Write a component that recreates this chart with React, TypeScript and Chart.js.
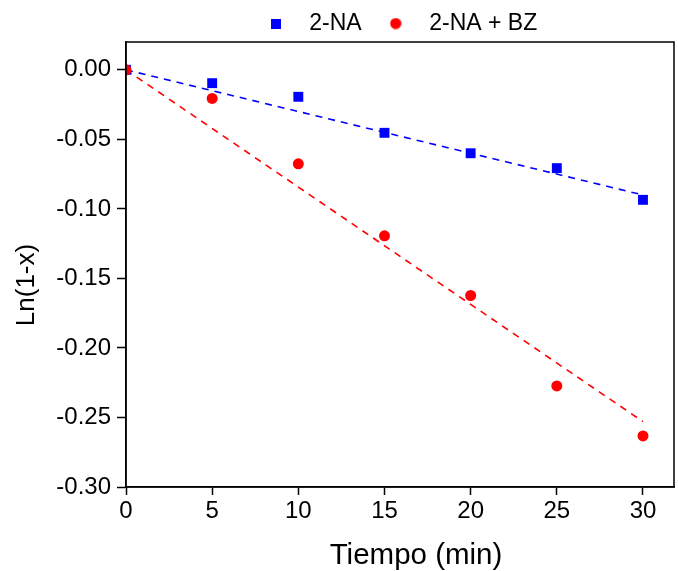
import React, { useEffect, useRef } from 'react';
import { Chart, registerables } from 'chart.js';

Chart.register(...registerables);

// ---- data ----
const timeMin = [0, 5, 10, 15, 20, 25, 30];
const seriesNA = [0, -0.0096, -0.0194, -0.0453, -0.06, -0.0707, -0.0935];
const seriesNABZ = [0, -0.0206, -0.0676, -0.1194, -0.1623, -0.2273, -0.2633];
const fitTime = [0, 30];
const fitNA = [0, -0.09];
const fitNABZ = [0, -0.253];
const xTicks = [0, 5, 10, 15, 20, 25, 30];
const yTicks = [-0.3, -0.25, -0.2, -0.15, -0.1, -0.05, 0];
const seriesLabels = ['2-NA', '2-NA + BZ'];
const xTitle = 'Tiempo (min)';
const yTitle = 'Ln(1-x)';

const BLUE = '#0000FF';
const RED = '#FF0000';
const FONT = "'Liberation Sans', Arial, Helvetica, sans-serif";

const toPoints = (xs: number[], ys: number[]) => xs.map((x, i) => ({ x, y: ys[i] }));

export default function App() {
  const ref = useRef<HTMLCanvasElement | null>(null);

  useEffect(() => {
    document.body.style.margin = '0';
    const canvas = ref.current;
    if (!canvas) return;

    // legend marker images
    const sq = document.createElement('canvas');
    sq.width = 10;
    sq.height = 10;
    const sctx = sq.getContext('2d')!;
    sctx.fillStyle = BLUE;
    sctx.fillRect(0, 0, 10, 10);
    const ci = document.createElement('canvas');
    ci.width = 12;
    ci.height = 12;
    const cctx = ci.getContext('2d')!;
    cctx.fillStyle = RED;
    cctx.beginPath();
    cctx.arc(6, 6, 5.6, 0, Math.PI * 2);
    cctx.fill();

    const legendPlacement = {
      id: 'legendPlacement',
      beforeLayout(chart: any) {
        const l = chart.legend;
        if (l && !l._patched) {
          const orig = l.fit.bind(l);
          l.fit = () => {
            orig();
            l.height = 42;
          };
          l._patched = true;
        }
      },
      afterLayout(chart: any) {
        const l = chart.legend;
        if (l) {
          l.left = chart.chartArea.left - 4.5;
          l.right = chart.chartArea.right - 4.5;
        }
      },
    };

    const frame = {
      id: 'frame',
      afterDraw(chart: any) {
        const { ctx, chartArea: a } = chart;
        ctx.save();
        ctx.strokeStyle = '#000';
        ctx.lineWidth = 1.5;
        ctx.strokeRect(a.left, a.top, a.right - a.left, a.bottom - a.top);
        ctx.restore();
      },
    };

    const axisTitles = {
      id: 'axisTitles',
      afterDraw(chart: any) {
        const { ctx, chartArea: a } = chart;
        ctx.save();
        ctx.fillStyle = '#000';
        ctx.textAlign = 'center';
        ctx.textBaseline = 'alphabetic';
        ctx.font = `29.5px ${FONT}`;
        ctx.fillText(xTitle, (a.left + a.right) / 2 + 16, a.bottom + 77);
        ctx.translate(34, (a.top + a.bottom) / 2 + 20.5);
        ctx.rotate(-Math.PI / 2);
        ctx.font = `26px ${FONT}`;
        ctx.fillText(yTitle, 0, 0);
        ctx.restore();
      },
    };

    const chart = new Chart(canvas, {
      type: 'scatter',
      data: {
        datasets: [
          {
            label: seriesLabels[0],
            data: toPoints(timeMin, seriesNA),
            pointStyle: 'rect',
            pointRadius: 7,
            pointHoverRadius: 7,
            backgroundColor: BLUE,
            borderColor: BLUE,
            borderWidth: 0,
            order: 1,
          },
          {
            label: seriesLabels[1],
            data: toPoints(timeMin, seriesNABZ),
            pointStyle: 'circle',
            pointRadius: 5.5,
            pointHoverRadius: 5.5,
            backgroundColor: RED,
            borderColor: RED,
            borderWidth: 0,
            order: 0,
          },
          {
            type: 'line',
            label: 'fit 2-NA',
            data: toPoints(fitTime, fitNA),
            borderColor: BLUE,
            borderWidth: 1.6,
            borderDash: [7, 6],
            pointRadius: 0,
            fill: false,
            order: 3,
          } as any,
          {
            type: 'line',
            label: 'fit 2-NA + BZ',
            data: toPoints(fitTime, fitNABZ),
            borderColor: RED,
            borderWidth: 1.6,
            borderDash: [7, 6],
            pointRadius: 0,
            fill: false,
            order: 2,
          } as any,
        ],
      },
      options: {
        responsive: false,
        animation: false,
        devicePixelRatio: 1,
        layout: { autoPadding: false, padding: { left: 0, right: 4, top: 0, bottom: 0 } },
        plugins: {
          tooltip: { enabled: false },
          title: { display: false },
          legend: {
            display: true,
            position: 'top',
            align: 'center',
            labels: {
              usePointStyle: true,
              pointStyleWidth: 44,
              padding: 12,
              color: '#000',
              font: { family: FONT, size: 23 },
              generateLabels: () => [
                {
                  text: seriesLabels[0],
                  pointStyle: sq as any,
                  datasetIndex: 0,
                  hidden: false,
                  fillStyle: BLUE,
                  strokeStyle: BLUE,
                  lineWidth: 0,
                  fontColor: '#000',
                },
                {
                  text: seriesLabels[1],
                  pointStyle: ci as any,
                  datasetIndex: 1,
                  hidden: false,
                  fillStyle: RED,
                  strokeStyle: RED,
                  lineWidth: 0,
                  fontColor: '#000',
                },
              ],
            },
          },
        },
        scales: {
          x: {
            type: 'linear',
            min: 0,
            max: 31.8,
            afterBuildTicks: (axis: any) => {
              axis.ticks = xTicks.map((v) => ({ value: v }));
            },
            afterFit: (axis: any) => {
              axis.height = 84;
              axis.paddingLeft = 0;
              axis.paddingRight = 0;
            },
            grid: {
              display: true,
              drawOnChartArea: false,
              drawTicks: true,
              tickLength: 8,
              tickWidth: 1.5,
              tickColor: '#000',
              color: '#000',
            },
            border: { display: true, color: '#000', width: 1.5 },
            ticks: {
              color: '#000',
              font: { family: FONT, size: 24 },
              padding: 2,
              maxRotation: 0,
              autoSkip: false,
              callback: (v: any) => String(v),
            },
          },
          y: {
            type: 'linear',
            min: -0.3,
            max: 0.02,
            afterBuildTicks: (axis: any) => {
              axis.ticks = yTicks.map((v) => ({ value: v }));
            },
            afterFit: (axis: any) => {
              axis.width = 126;
              axis.paddingTop = 0;
              axis.paddingBottom = 0;
            },
            grid: {
              display: true,
              drawOnChartArea: false,
              drawTicks: true,
              tickLength: 9,
              tickWidth: 1.5,
              tickColor: '#000',
              color: '#000',
            },
            border: { display: true, color: '#000', width: 1.5 },
            ticks: {
              color: '#000',
              font: { family: FONT, size: 24 },
              padding: 6,
              autoSkip: false,
              callback: (v: any) => Number(v).toFixed(2),
            },
          },
        },
      },
      plugins: [legendPlacement, frame, axisTitles],
    });

    return () => {
      chart.destroy();
    };
  }, []);

  return (
    <div style={{ width: 678, height: 571 }}>
      <canvas ref={ref} width={678} height={571} style={{ display: 'block' }} />
    </div>
  );
}
